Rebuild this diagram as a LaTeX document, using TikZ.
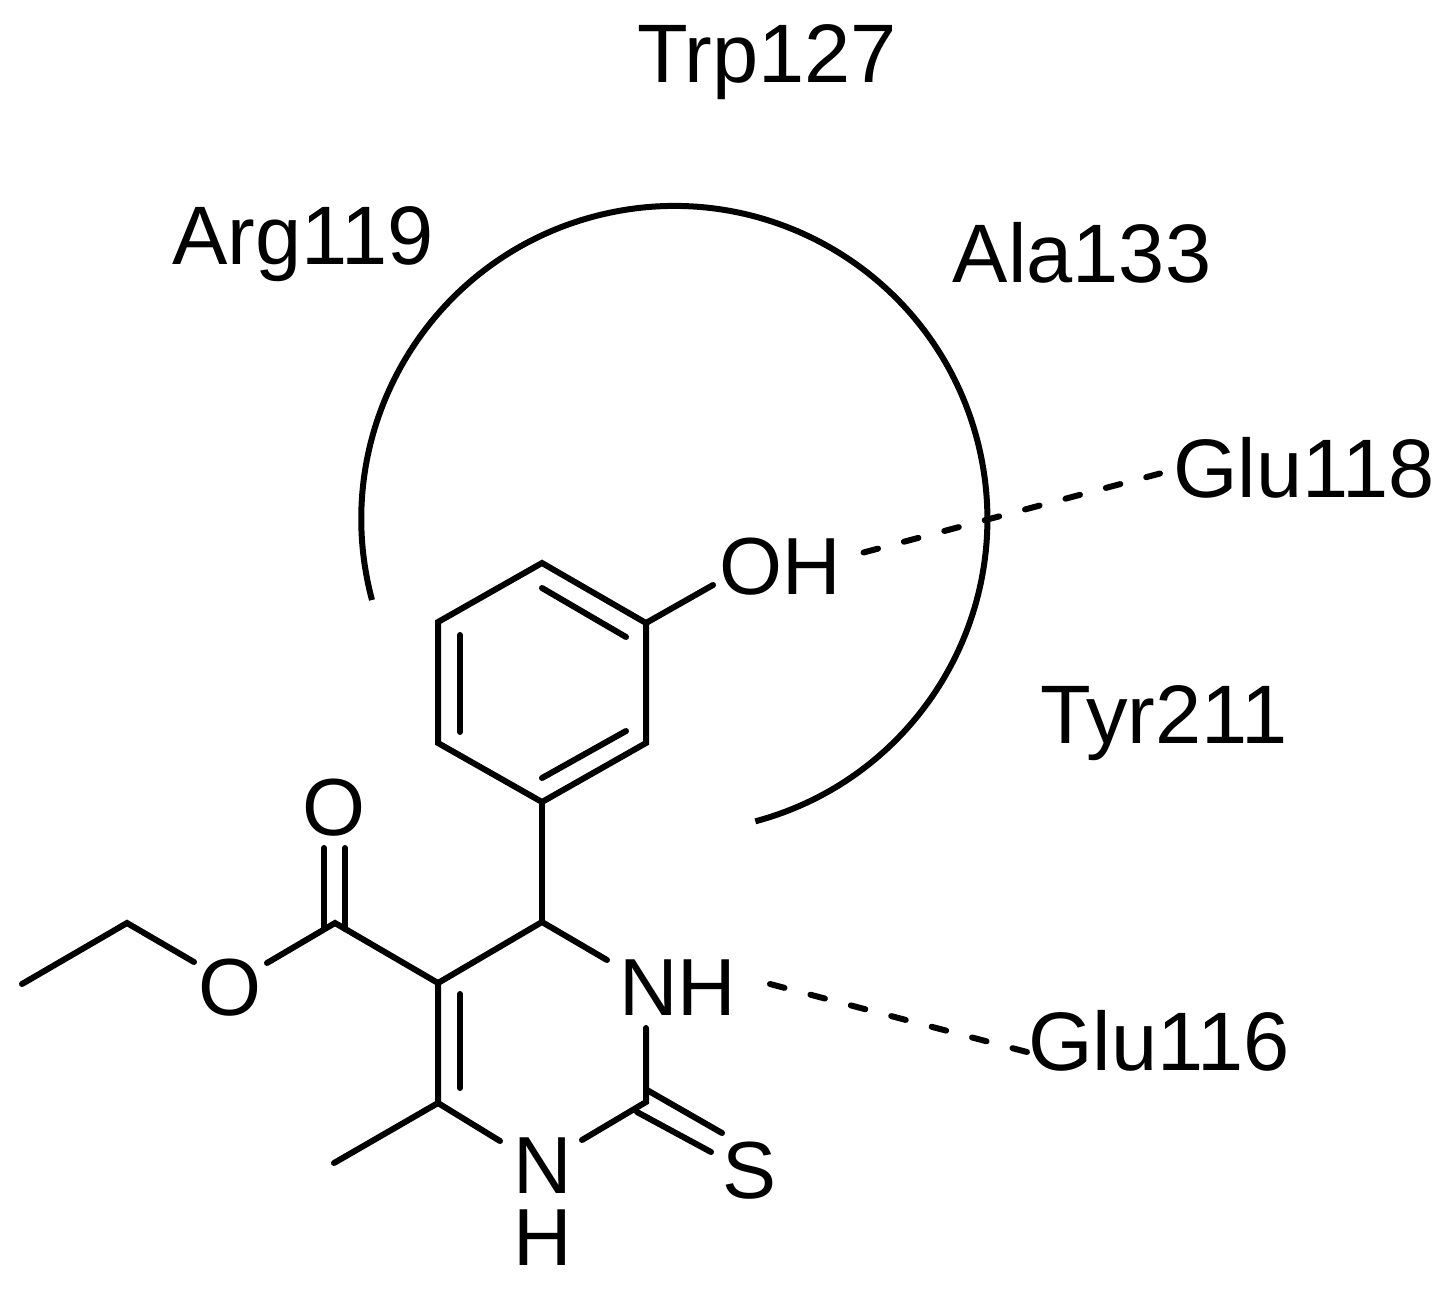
\documentclass[tikz,border=0pt]{standalone}
\usepackage{fontspec}
\setmainfont{Liberation Sans}
\begin{document}
\begin{tikzpicture}[x=1pt,y=-1pt,
  lab/.style={inner sep=0pt,font=\fontsize{83}{83}\selectfont,text=black},
  atom/.style={inner sep=0pt,font=\fontsize{81}{81}\selectfont,text=black},
  bond/.style={line width=6pt,line cap=round,line join=miter,black},
  hb/.style={line width=6pt,line cap=round,black,dash pattern=on 15pt off 26.8pt}]
\useasboundingbox (0,0) rectangle (1453,1288);
% residue labels
\node[lab] (trp) at (767,62) {Trp127};
\node[lab] (arg) at (303,244) {Arg119};
\node[lab] (ala) at (1082,253) {Ala133};
\node[lab] (glu118) at (1304,468) {Glu118};
\node[lab] (tyr) at (1164,723) {Tyr211};
\node[lab] (glu116) at (1159,1041) {Glu116};
% atoms
\node[atom] (oh) at (780,567) {OH};
\node[atom] (nh) at (678,988) {NH};
\node[atom] (s) at (750,1171) {S};
\node[atom] (n) at (543,1166) {N};
\node[atom] (h) at (543,1238) {H};
\node[atom] (o1) at (334,808) {O};
\node[atom] (o2) at (230,988) {O};
% skeleton points
\coordinate (a1) at (542,563);
\coordinate (a2) at (646,623);
\coordinate (a3) at (646,743);
\coordinate (a4) at (542,802);
\coordinate (a5) at (438,743);
\coordinate (a6) at (438,622);
\coordinate (c4) at (542,922);
\coordinate (c5) at (438,983);
\coordinate (c6) at (438,1103);
\coordinate (c2) at (646,1102);
\coordinate (me) at (334,1163);
\coordinate (cc) at (335,923);
\coordinate (ch2) at (127,923);
\coordinate (ch3) at (22,984);
% pocket arc
\draw[line width=6pt,black] (372,600) arc[start angle=195,end angle=-75,radius=313pt];
% hydrogen bonds
\coordinate (hb1a) at (863.5,552.5);
\coordinate (hb1b) at (1160,473.5);
\coordinate (hb2a) at (770,984);
\coordinate (hb2b) at (1027,1052);
\draw[hb] (hb1a) -- (hb1b);
\draw[hb] (hb2a) -- (hb2b);
% phenyl ring
\draw[bond] (a6) -- (a1) -- (a2) -- (a3) -- (a4) -- (a5) -- cycle;
\draw[bond] (542,588) -- (626,637);
\draw[bond] (460,635) -- (460,732);
\draw[bond] (542,778) -- (626,731);
\draw[bond] (a2) -- (713,585);
\draw[bond] (a4) -- (c4);
% pyrimidine ring
\draw[bond] (607,960) -- (c4) -- (c5) -- (c6) -- (500,1141);
\draw[bond] (646,1028) -- (c2) -- (582,1140);
\draw[bond] (460,994) -- (460,1088);
\draw[bond] (c6) -- (me);
% thione
\draw[bond] (647,1090) -- (722,1133);
\draw[bond] (637,1112) -- (711,1152);
% ester
\draw[bond] (c5) -- (cc) -- (267,963);
\draw[bond] (194,962) -- (ch2) -- (ch3);
\draw[bond] (324,848) -- (324,929);
\draw[bond] (345,848) -- (345,929);
\end{tikzpicture}
\end{document}
